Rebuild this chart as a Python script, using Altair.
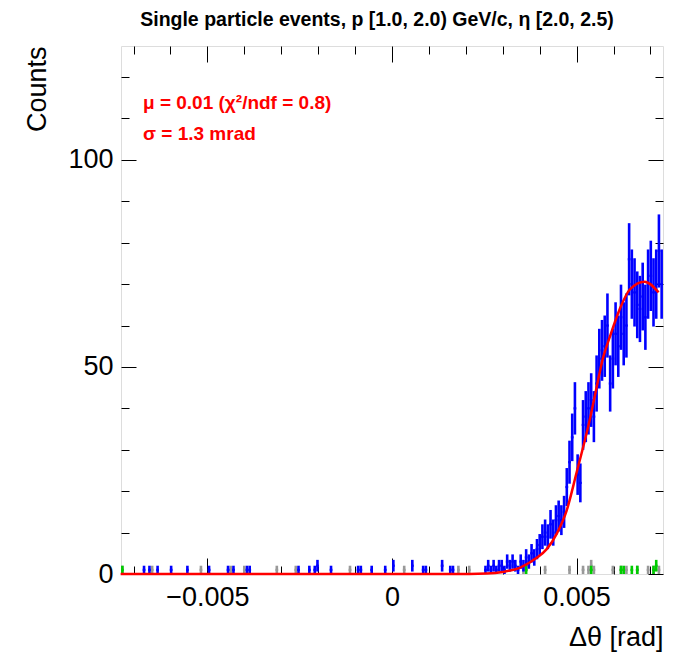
import altair as alt
import pandas as pd
import numpy as np

# ---------------- data ----------------
X_MIN, X_MAX, N_BINS = -0.00734, 0.00734, 200
Y_MAX = 127.5

blue_idx = [8, 10, 13, 18, 24, 32, 39, 41, 46, 47, 65, 69, 71, 72, 77, 87, 88, 92, 97, 100,
            107, 111, 112, 118, 121, 122,
            134, 135, 136, 137, 138, 139, 140, 141, 142, 143, 144, 145, 146, 147, 148, 149,
            150, 151, 152, 153, 154, 155, 156, 157, 158, 159, 160, 161, 162, 163, 164, 165,
            166, 167, 168, 169, 170, 171, 172, 173, 174, 175, 176, 177, 178, 179, 180, 181,
            182, 183, 184, 185, 186, 187, 188, 189, 190, 191, 192, 193, 194, 195, 196, 197,
            198, 199]
blue_cnt = [1, 1, 1, 1, 1, 1, 1, 1, 1, 1, 1, 1, 1, 2, 1, 1, 1, 1, 1, 2,
            2, 1, 1, 2, 1, 1,
            1, 2, 1, 2, 1, 2, 2, 1, 3, 2, 3, 2, 1, 3, 2, 4,
            3, 5, 4, 6, 7, 9, 10, 9, 12, 10, 13, 14, 13, 15, 21, 27,
            33, 40, 24, 22, 36, 38, 40, 42, 38, 46, 52, 54, 55, 60, 46, 52,
            58, 55, 62, 58, 60, 76, 70, 68, 65, 64, 67, 62, 70, 72, 68, 70,
            78, 70]

gray_idx = [0, 11, 29, 40, 45, 57, 64, 84, 104, 124, 128, 148, 149, 156, 165, 170, 172, 173,
            174, 181, 184, 186, 190, 194, 196, 198]
gray_cnt = [1, 1, 1, 1, 1, 1, 1, 1, 1, 1, 1, 1, 2, 1, 1, 1, 1, 2,
            1, 1, 1, 1, 1, 1, 1, 1]

green_idx = [0, 149, 173, 184, 185, 188, 190, 196, 197]
green_cnt = [1, 1, 1, 1, 1, 1, 1, 1, 2]

fit_x = [-0.00735, 0.0021, 0.00256, 0.0030, 0.00346, 0.00392, 0.00419, 0.00446, 0.00473,
         0.0050, 0.00527, 0.00535, 0.00554, 0.00571, 0.00589, 0.00617, 0.00644, 0.00684, 0.00722]
fit_y = [0, 0, 0.1, 0.5, 1.5, 3.9, 6.0, 9.7, 15.3, 24.5, 34, 37, 45, 52, 57, 64, 68.7, 70.6, 68]

title_text = "Single particle events, p [1.0, 2.0) GeV/c, \u03b7 [2.0, 2.5)"
label_mu = "\u03bc = 0.01 (\u03c7\u00b2/ndf = 0.8)"
label_sigma = "\u03c3 = 1.3 mrad"

# ---------------- tables ----------------
bw = (X_MAX - X_MIN) / N_BINS


def hist_df(idx, cnt):
    idx = np.array(idx)
    n = np.array(cnt, dtype=float)
    lo = X_MIN + idx * bw
    return pd.DataFrame({
        "lo": lo, "hi": lo + bw, "c": lo + bw / 2, "n": n,
        "elo": n - np.sqrt(n), "ehi": np.minimum(n + np.sqrt(n), Y_MAX),
    })


blue = hist_df(blue_idx, blue_cnt)
gray = hist_df(gray_idx, gray_cnt)
green = hist_df(green_idx, green_cnt)
fit = pd.DataFrame({"x": fit_x, "y": fit_y})

FONT = "Liberation Sans"
xs = alt.Scale(domain=[X_MIN, X_MAX], nice=False, zero=False)
ys = alt.Scale(domain=[0, Y_MAX], nice=False, zero=False)


def hist_layers(df, color):
    v = alt.Chart(df).mark_rule(color=color, strokeWidth=2.6).encode(
        x=alt.X("c:Q", scale=xs, axis=None),
        y=alt.Y("elo:Q", scale=ys, axis=None),
        y2="ehi:Q")
    h = alt.Chart(df).mark_rule(color=color, strokeWidth=2.2).encode(
        x=alt.X("lo:Q", scale=xs, axis=None),
        x2="hi:Q",
        y=alt.Y("n:Q", scale=ys, axis=None))
    return [v, h]


layers = []
layers += hist_layers(gray, "#999999")
layers += hist_layers(green, "#00cc00")
layers += hist_layers(blue, "#0000ff")

red = alt.Chart(fit).mark_line(color="#ff0000", strokeWidth=2.5, interpolate="monotone").encode(
    x=alt.X("x:Q", scale=xs, axis=None),
    y=alt.Y("y:Q", scale=ys, axis=None))
layers.append(red)


def label(text, ypix):
    return alt.Chart(pd.DataFrame({"t": [text]})).mark_text(
        color="#ff0000", font=FONT, fontSize=19, fontWeight="bold",
        align="left", baseline="alphabetic").encode(
        text="t:N", x=alt.value(22), y=alt.value(ypix))


layers.append(label(label_mu, 63))
layers.append(label(label_sigma, 94))

# ---------------- ROOT-like axes: ticks pointing inwards on all four sides ----------------
xmaj = [-0.005, 0.0, 0.005]
xmin = [-0.007, -0.006, -0.004, -0.003, -0.002, -0.001, 0.001, 0.002, 0.003, 0.004, 0.006, 0.007]
ymaj = [0, 50, 100]
ymin = [10, 20, 30, 40, 60, 70, 80, 90, 110, 120]


def xaxis(values, orient, size, labels=False, title=""):
    kw = dict(orient=orient, values=values, tickSize=size, offset=-size, labels=labels,
              domain=False, grid=False, tickColor="black", tickWidth=1, title=title)
    if labels:
        kw.update(labelFont=FONT, labelFontSize=27, labelColor="black", labelPadding=10,
                  labelExpr="datum.value == 0 ? '0' : replace(format(datum.value, '.3f'), '-', '\u2212')")
    if title:
        kw.update(titleFont=FONT, titleFontSize=27, titleFontWeight="normal", titleColor="black",
                  titleAnchor="end", titlePadding=14)
    return alt.Chart(blue).mark_point(opacity=0).encode(
        x=alt.X("c:Q", scale=xs, axis=alt.Axis(**kw)))


def yaxis(values, orient, size, labels=False, title=""):
    kw = dict(orient=orient, values=values, tickSize=size, offset=-size, labels=labels,
              domain=False, grid=False, tickColor="black", tickWidth=1, title=title)
    if labels:
        kw.update(labelFont=FONT, labelFontSize=27, labelColor="black", labelPadding=8)
    if title:
        kw.update(titleFont=FONT, titleFontSize=27, titleFontWeight="normal", titleColor="black",
                  titleAnchor="end", titlePadding=16)
    return alt.Chart(blue).mark_point(opacity=0).encode(
        y=alt.Y("n:Q", scale=ys, axis=alt.Axis(**kw)))


layers += [
    xaxis(xmaj, "bottom", 16, labels=True, title="\u0394\u03b8 [rad]"),
    xaxis(xmin, "bottom", 8),
    xaxis(xmaj, "top", 16),
    xaxis(xmin, "top", 8),
    yaxis(ymaj, "left", 15, labels=True, title="Counts"),
    yaxis(ymin, "left", 8),
    yaxis(ymaj, "right", 15),
    yaxis(ymin, "right", 8),
]

chart = alt.layer(*layers).resolve_axis(x="independent", y="independent").properties(
    width=542, height=528,
    title=alt.TitleParams(title_text, font=FONT, fontSize=19.5, fontWeight="bold", color="black",
                          anchor="middle", offset=15, dx=-15),
    autosize=alt.AutoSizeParams(type="none"),
    padding={"left": 113, "top": 38, "right": 4, "bottom": 82},
).configure_view(stroke="black", strokeWidth=1.2).configure(background="white")

chart.save("out.html", embed_options={"renderer": "svg", "actions": False})
